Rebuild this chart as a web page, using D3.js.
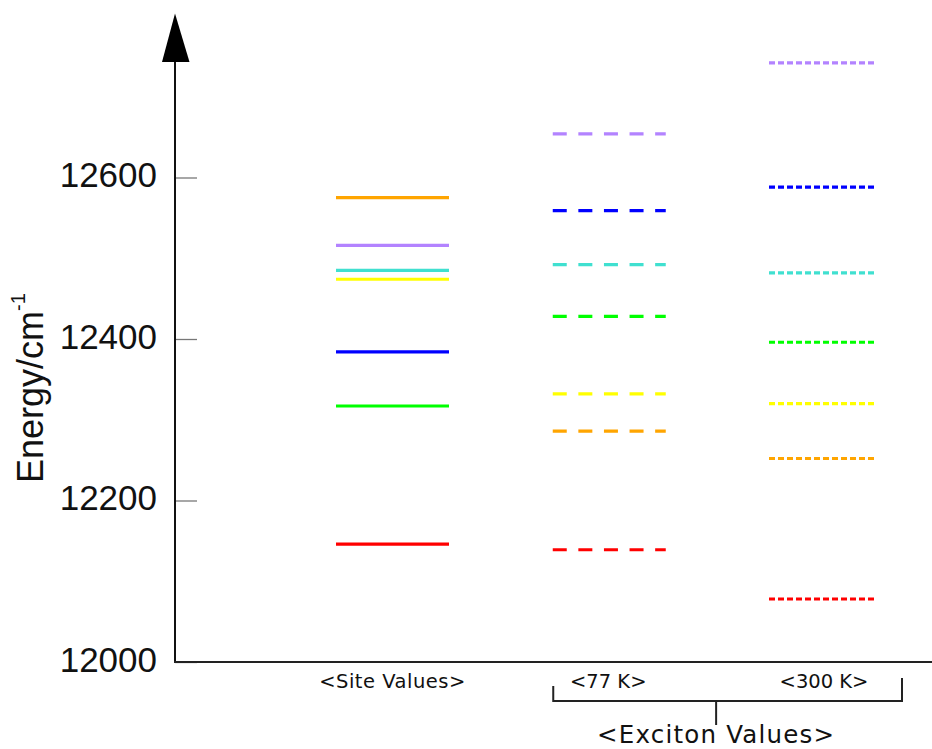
<!DOCTYPE html>
<html>
<head>
<meta charset="utf-8">
<script src="https://cdn.jsdelivr.net/npm/d3@7"></script>
<style>
  html, body { margin: 0; padding: 0; background: #fff; }
  svg { display: block; }
</style>
</head>
<body>
<svg id="chart" width="932" height="749"></svg>
<script>
// ---- data ----
const categories = ["<Site Values>", "<77 K>", "<300 K>"];
const levelNames = ["red", "orange", "yellow", "green", "blue", "cyan", "purple"];
const siteValues      = [12146, 12575, 12474, 12317, 12384, 12485, 12516];
const exciton77Values = [12139, 12286, 12332, 12428, 12559, 12492, 12654];
const exciton300Values= [12078, 12252, 12320, 12396, 12588, 12482, 12742];
const yTicks = [12000, 12200, 12400, 12600];
const groupLabel = "<Exciton Values>";
const yLabelMain = "Energy/cm";
const yLabelSup = "-1";

// ---- styles ----
const levelColors = {
  red: "#ff0000", orange: "#ffa500", yellow: "#ffff00", green: "#00ff00",
  blue: "#0000ff", cyan: "#40e0d0", purple: "#b383ff"
};
const columnStyles = [
  { dash: null,        left: 56.5, right: 56.5 },
  { dash: "14,11.6",   left: 55.5, right: 57.5 },
  { dash: "6,3",       left: 55,   right: 51 }
];
const seriesByColumn = [siteValues, exciton77Values, exciton300Values];

const svg = d3.select("#chart");
const y = d3.scaleLinear().domain([12000, 12600]).range([662, 177.5]);
const x = d3.scalePoint().domain(categories).range([392.5, 824]);
const axisX = 175;

// energy level lines
categories.forEach((cat, ci) => {
  const st = columnStyles[ci];
  const cx = x(cat);
  svg.append("g").selectAll("line")
    .data(seriesByColumn[ci].map((v, i) => ({ v, name: levelNames[i] })))
    .join("line")
    .attr("x1", cx - st.left)
    .attr("x2", cx + st.right)
    .attr("y1", d => y(d.v))
    .attr("y2", d => y(d.v))
    .attr("stroke", d => levelColors[d.name])
    .attr("stroke-width", 3.2)
    .attr("stroke-dasharray", st.dash);
});

// y axis ticks and labels
const yAxis = d3.axisLeft(y).tickValues(yTicks).tickFormat(d3.format("d"))
  .tickSize(-22).tickPadding(18);
const gy = svg.append("g").attr("transform", `translate(${axisX},0)`).call(yAxis);
gy.select(".domain").remove();
gy.selectAll(".tick line").attr("stroke", "#777").attr("stroke-width", 1.3);
gy.selectAll(".tick text")
  .attr("font-family", "'Liberation Sans', Arial, sans-serif")
  .attr("font-size", 35)
  .attr("fill", "#111")
  .attr("dy", "0.27em");

// axis lines
svg.append("line").attr("x1", axisX).attr("x2", axisX)
  .attr("y1", y(12000) + 1).attr("y2", 60)
  .attr("stroke", "#111").attr("stroke-width", 2);
svg.append("line").attr("x1", axisX - 1).attr("x2", 932)
  .attr("y1", y(12000)).attr("y2", y(12000))
  .attr("stroke", "#222").attr("stroke-width", 2);
svg.append("path")
  .attr("d", `M${axisX},13.5 L${axisX - 13},62 L${axisX + 14.5},62 Z`)
  .attr("fill", "#000");

// y label
const yl = svg.append("text")
  .attr("transform", "translate(43,483) rotate(-90)")
  .attr("font-family", "'Liberation Sans', Arial, sans-serif")
  .attr("font-size", 36)
  .attr("fill", "#111");
yl.append("tspan").text(yLabelMain);
yl.append("tspan").attr("font-size", 20).attr("dy", -18).text(yLabelSup);

// category labels
svg.append("g").selectAll("text")
  .data(categories)
  .join("text")
  .attr("x", d => x(d))
  .attr("y", 688)
  .attr("text-anchor", "middle")
  .attr("font-family", "'DejaVu Sans', sans-serif")
  .attr("font-size", 19.5)
  .attr("letter-spacing", (d, i) => i === 0 ? 0.5 : 0)
  .attr("fill", "#111")
  .text(d => d);

// exciton bracket
const bl = x(categories[1]) - 55;
const br = x(categories[2]) + 78;
const bm = (x(categories[1]) + x(categories[2])) / 2;
const bracket = svg.append("g").attr("stroke", "#222").attr("stroke-width", 2).attr("fill", "none");
bracket.append("path").attr("d", `M${bl},686 V701 H${br} V678`);
bracket.append("line").attr("x1", bm).attr("x2", bm).attr("y1", 701).attr("y2", 725);
svg.append("text")
  .attr("x", bm).attr("y", 743)
  .attr("text-anchor", "middle")
  .attr("font-family", "'DejaVu Sans', sans-serif")
  .attr("font-size", 24.5)
  .attr("letter-spacing", 1.2)
  .attr("fill", "#111")
  .text(groupLabel);
</script>
</body>
</html>
